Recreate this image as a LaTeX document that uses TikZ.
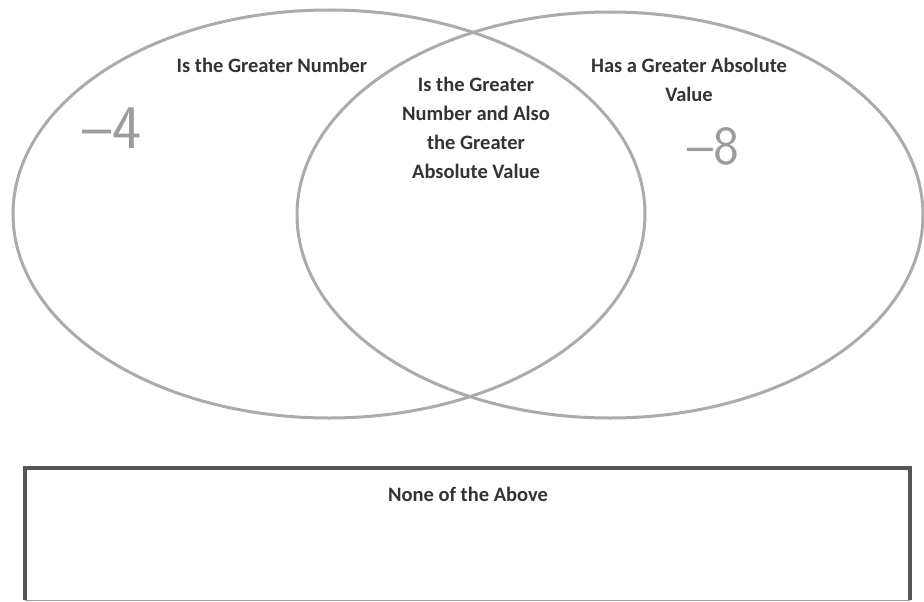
\documentclass[tikz,border=0pt]{standalone}
\usepackage{fontspec}
\setmainfont{Carlito}
\usetikzlibrary{positioning}
\definecolor{ring}{HTML}{ABABAB}
\definecolor{frame}{HTML}{565656}
\definecolor{ink}{HTML}{333333}
\definecolor{pencil}{HTML}{9C9C9C}
\tikzset{
  label/.style={ink,font=\bfseries\fontsize{20.5}{29}\selectfont,align=center,inner sep=0pt},
  hand/.style={pencil,font=\sffamily\fontsize{#1}{#1}\selectfont,inner sep=0pt}
}

\begin{document}
\begin{tikzpicture}[x=1pt,y=-1pt]
  \useasboundingbox (0,0) rectangle (924,602);
  % the two sets
  \draw[ring,line width=3pt] (329,214) ellipse [x radius=316, y radius=204];
  \draw[ring,line width=3pt] (610,215) ellipse [x radius=313, y radius=203];
  \node[label] (greater) at (272,65) {Is the Greater Number};
  \node[label] (both) at (476,128) {Is the Greater\\Number and Also\\the Greater\\Absolute Value};
  \node[label] (absval) at (689,80) {Has a Greater Absolute\\Value};
  \node[hand=62] (minusfour) at (112,128) {–4};
  \node[hand=55] (minuseight) at (713,146) {–8};
  % outside box
  \draw[frame,line width=4pt] (25,600) -- (25,468) -- (910,468) -- (910,600);
  \draw[pencil,line width=1pt] (25,600) -- (910,600);
  \node[label] (none) at (468,494) {None of the Above};
\end{tikzpicture}
\end{document}
